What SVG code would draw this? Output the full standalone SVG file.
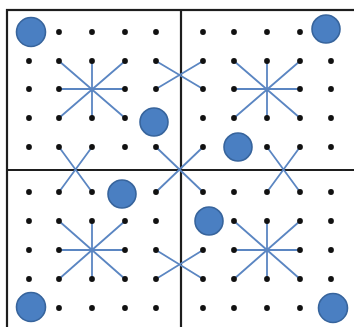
<svg xmlns="http://www.w3.org/2000/svg" width="354" height="327" viewBox="0 0 354 327">
<defs>
<style>
.frame{fill:none;stroke:#1e1e1e;stroke-width:2.2}
.ln{stroke:#5b86c2;stroke-width:1.8;fill:none;stroke-linecap:round}
.dot{fill:#111}
.big{fill:#4a7fc2;stroke:#37649c;stroke-width:1.6}
</style>
<circle id="d" class="dot" r="2.9"/>
</defs>
<rect width="354" height="327" fill="#fff"/>
<g id="frame">
<rect class="frame" x="7" y="10" width="360" height="330"/>
<line class="frame" x1="181" y1="10" x2="181" y2="330"/>
<line class="frame" x1="7" y1="170" x2="360" y2="170"/>
</g>
<g id="connectors">
<g id="star-tl">
<path class="ln" d="M59,61L125,118M125,61L59,118M92,61L92,118M59,89L125,89"/>
</g>
<g id="star-tr">
<path class="ln" d="M234,61L300,118M300,61L234,118M267,61L267,118M234,89L300,89"/>
</g>
<g id="star-bl">
<path class="ln" d="M59,221L125,279M125,221L59,279M92,221L92,279M59,250L125,250"/>
</g>
<g id="star-br">
<path class="ln" d="M234,221L300,279M300,221L234,279M267,221L267,279M234,250L300,250"/>
</g>
<g id="cross-top">
<path class="ln" d="M156,61L203,89M156,89L203,61"/>
</g>
<g id="cross-left">
<path class="ln" d="M59,147L92,192M92,147L59,192"/>
</g>
<g id="cross-center">
<path class="ln" d="M156,147L203,192M203,147L156,192"/>
</g>
<g id="cross-right">
<path class="ln" d="M267,147L300,192M300,147L267,192"/>
</g>
<g id="cross-bottom">
<path class="ln" d="M156,250L203,279M156,279L203,250"/>
</g>
</g>
<g id="dots">
<!-- TL -->
<use href="#d" x="59" y="32"/><use href="#d" x="92" y="32"/><use href="#d" x="125" y="32"/><use href="#d" x="156" y="32"/>
<use href="#d" x="29" y="61"/><use href="#d" x="59" y="61"/><use href="#d" x="92" y="61"/><use href="#d" x="125" y="61"/><use href="#d" x="156" y="61"/>
<use href="#d" x="29" y="89"/><use href="#d" x="59" y="89"/><use href="#d" x="125" y="89"/><use href="#d" x="156" y="89"/>
<use href="#d" x="29" y="118"/><use href="#d" x="59" y="118"/><use href="#d" x="92" y="118"/><use href="#d" x="125" y="118"/>
<use href="#d" x="29" y="147"/><use href="#d" x="59" y="147"/><use href="#d" x="92" y="147"/><use href="#d" x="125" y="147"/><use href="#d" x="156" y="147"/>
<!-- TR -->
<use href="#d" x="203" y="32"/><use href="#d" x="234" y="32"/><use href="#d" x="267" y="32"/><use href="#d" x="300" y="32"/>
<use href="#d" x="203" y="61"/><use href="#d" x="234" y="61"/><use href="#d" x="267" y="61"/><use href="#d" x="300" y="61"/><use href="#d" x="331" y="61"/>
<use href="#d" x="203" y="89"/><use href="#d" x="234" y="89"/><use href="#d" x="300" y="89"/><use href="#d" x="331" y="89"/>
<use href="#d" x="203" y="118"/><use href="#d" x="234" y="118"/><use href="#d" x="267" y="118"/><use href="#d" x="300" y="118"/><use href="#d" x="331" y="118"/>
<use href="#d" x="203" y="147"/><use href="#d" x="267" y="147"/><use href="#d" x="300" y="147"/><use href="#d" x="331" y="147"/>
<!-- BL -->
<use href="#d" x="29" y="192"/><use href="#d" x="59" y="192"/><use href="#d" x="92" y="192"/><use href="#d" x="156" y="192"/>
<use href="#d" x="29" y="221"/><use href="#d" x="59" y="221"/><use href="#d" x="92" y="221"/><use href="#d" x="125" y="221"/><use href="#d" x="156" y="221"/>
<use href="#d" x="29" y="250"/><use href="#d" x="59" y="250"/><use href="#d" x="125" y="250"/><use href="#d" x="156" y="250"/>
<use href="#d" x="29" y="279"/><use href="#d" x="59" y="279"/><use href="#d" x="92" y="279"/><use href="#d" x="125" y="279"/><use href="#d" x="156" y="279"/>
<use href="#d" x="59" y="308"/><use href="#d" x="92" y="308"/><use href="#d" x="125" y="308"/><use href="#d" x="156" y="308"/>
<!-- BR -->
<use href="#d" x="203" y="192"/><use href="#d" x="234" y="192"/><use href="#d" x="267" y="192"/><use href="#d" x="300" y="192"/><use href="#d" x="331" y="192"/>
<use href="#d" x="234" y="221"/><use href="#d" x="267" y="221"/><use href="#d" x="300" y="221"/><use href="#d" x="331" y="221"/>
<use href="#d" x="203" y="250"/><use href="#d" x="234" y="250"/><use href="#d" x="300" y="250"/><use href="#d" x="331" y="250"/>
<use href="#d" x="203" y="279"/><use href="#d" x="234" y="279"/><use href="#d" x="267" y="279"/><use href="#d" x="300" y="279"/><use href="#d" x="331" y="279"/>
<use href="#d" x="203" y="308"/><use href="#d" x="234" y="308"/><use href="#d" x="267" y="308"/><use href="#d" x="300" y="308"/>
</g>
<g id="counters">
<circle class="big" cx="31" cy="32" r="14.5"/>
<circle class="big" cx="154" cy="122" r="14"/>
<circle class="big" cx="326" cy="29" r="14"/>
<circle class="big" cx="238" cy="147" r="14"/>
<circle class="big" cx="122" cy="194" r="14"/>
<circle class="big" cx="31" cy="307" r="14.5"/>
<circle class="big" cx="209" cy="221" r="14"/>
<circle class="big" cx="333" cy="308" r="14.5"/>
</g>
</svg>
